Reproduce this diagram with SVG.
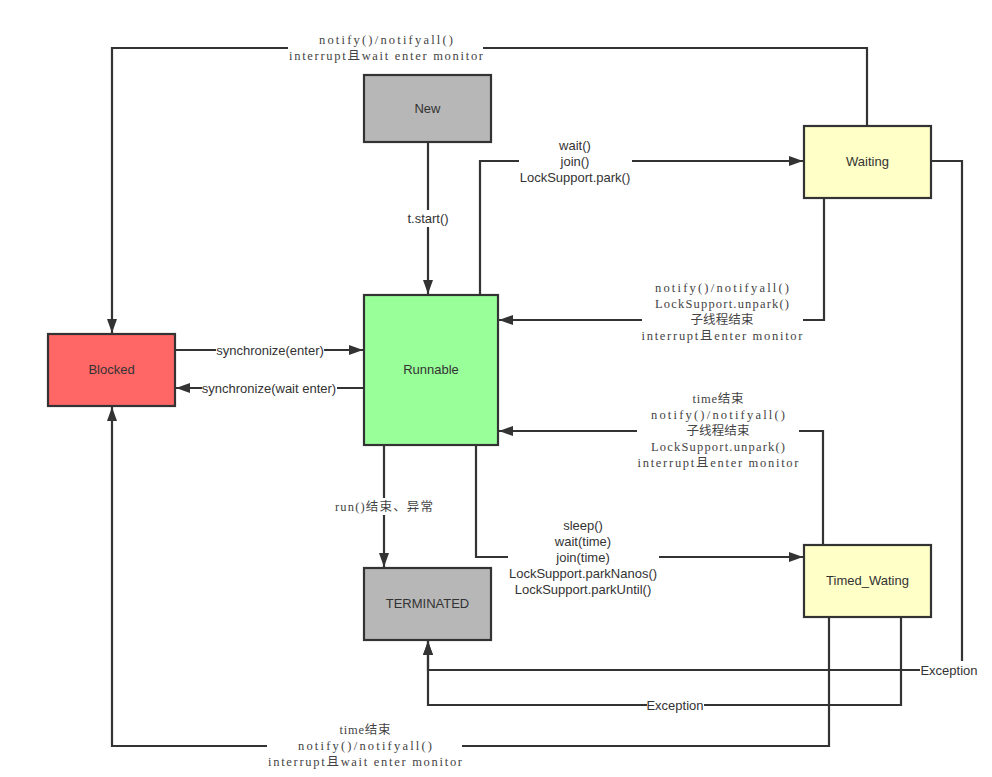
<svg xmlns="http://www.w3.org/2000/svg" width="992" height="777" viewBox="0 0 992 777">
<defs>
<style>
.node rect{stroke:#333;stroke-width:2.2}
.nt{font-family:"Liberation Sans",Arial,sans-serif;font-size:13px;fill:#333;text-anchor:middle}
.c{fill:none;stroke:#333;stroke-width:2.2}
.lt{font-family:"Liberation Sans",Arial,sans-serif;font-size:13px;fill:#333;text-anchor:middle}
.mt{font-family:"Liberation Serif","Noto Sans CJK SC",serif;font-size:12.5px;fill:#444;text-anchor:middle}
.bg{fill:#fff;stroke:none}
</style>
<marker id="ah" markerUnits="userSpaceOnUse" markerWidth="15" markerHeight="11" refX="14" refY="5" orient="auto">
<path d="M0,0 L14,5 L0,10 z" fill="#333"/>
</marker>
</defs>
<rect width="992" height="777" fill="#fff"/>
<g id="connectors">
<path class="c" d="M867,126 V48 H112 V333" marker-end="url(#ah)"/>
<path class="c" d="M428,142 V294" marker-end="url(#ah)"/>
<path class="c" d="M480,295 V161 H803" marker-end="url(#ah)"/>
<path class="c" d="M824,198 V320 H499" marker-end="url(#ah)"/>
<path class="c" d="M931,161 H962 V670 H428 V641" marker-end="url(#ah)"/>
<path class="c" d="M901,617 V705 H428 V641" marker-end="url(#ah)"/>
<path class="c" d="M829,617 V746 H112 V407" marker-end="url(#ah)"/>
<path class="c" d="M823,545 V431 H499" marker-end="url(#ah)"/>
<path class="c" d="M476,445 V557 H803" marker-end="url(#ah)"/>
<path class="c" d="M384,445 V567" marker-end="url(#ah)"/>
<path class="c" d="M176,350 H363" marker-end="url(#ah)"/>
<path class="c" d="M364,388 H176" marker-end="url(#ah)"/>
</g>
<g id="labels">
<g id="l-top"><rect class="bg" x="288" y="31" width="195" height="34"/>
<text class="mt" x="386" y="44" textLength="134" lengthAdjust="spacing">notify()/notifyall()</text>
<text class="mt" x="386" y="60" textLength="194" lengthAdjust="spacing">interrupt且wait enter monitor</text></g>
<g id="l-start"><rect class="bg" x="405" y="210" width="46" height="17"/>
<text class="lt" x="428" y="223">t.start()</text></g>
<g id="l-wait"><rect class="bg" x="519" y="136" width="113" height="48"/>
<text class="lt" x="575" y="150">wait()</text>
<text class="lt" x="575" y="166">join()</text>
<text class="lt" x="575" y="182">LockSupport.park()</text></g>
<g id="l-notify"><rect class="bg" x="642" y="279" width="161" height="66"/>
<text class="mt" x="722" y="292" textLength="134" lengthAdjust="spacing">notify()/notifyall()</text>
<text class="mt" x="722" y="308" textLength="134" lengthAdjust="spacing">LockSupport.unpark()</text>
<text class="mt" x="722" y="324" textLength="63" lengthAdjust="spacing">子线程结束</text>
<text class="mt" x="722" y="340" textLength="161" lengthAdjust="spacing">interrupt且enter monitor</text></g>
<g id="l-timeend"><rect class="bg" x="637" y="390" width="162" height="81"/>
<text class="mt" x="718" y="403" textLength="51" lengthAdjust="spacing">time结束</text>
<text class="mt" x="718" y="419" textLength="134" lengthAdjust="spacing">notify()/notifyall()</text>
<text class="mt" x="718" y="435" textLength="63" lengthAdjust="spacing">子线程结束</text>
<text class="mt" x="718" y="451" textLength="134" lengthAdjust="spacing">LockSupport.unpark()</text>
<text class="mt" x="718" y="467" textLength="161" lengthAdjust="spacing">interrupt且enter monitor</text></g>
<g id="l-sleep"><rect class="bg" x="508" y="516" width="151" height="81"/>
<text class="lt" x="583" y="530">sleep()</text>
<text class="lt" x="583" y="546">wait(time)</text>
<text class="lt" x="583" y="562">join(time)</text>
<text class="lt" x="583" y="578">LockSupport.parkNanos()</text>
<text class="lt" x="583" y="594">LockSupport.parkUntil()</text></g>
<g id="l-run"><rect class="bg" x="334" y="498" width="100" height="17"/>
<text class="mt" x="384" y="511" textLength="98" lengthAdjust="spacing">run()结束、异常</text></g>
<g id="l-sync1"><rect class="bg" x="216" y="342" width="108" height="16"/>
<text class="lt" x="270" y="354.5">synchronize(enter)</text></g>
<g id="l-sync2"><rect class="bg" x="202" y="380" width="135" height="16"/>
<text class="lt" x="269" y="392.5">synchronize(wait enter)</text></g>
<g id="l-exc1"><rect class="bg" x="920" y="661" width="58" height="17"/>
<text class="lt" x="949" y="674.5">Exception</text></g>
<g id="l-exc2"><rect class="bg" x="647" y="697" width="57" height="16"/>
<text class="lt" x="675" y="709.5">Exception</text></g>
<g id="l-bottom"><rect class="bg" x="267" y="721" width="195" height="48"/>
<text class="mt" x="365" y="734" textLength="51" lengthAdjust="spacing">time结束</text>
<text class="mt" x="365" y="750" textLength="134" lengthAdjust="spacing">notify()/notifyall()</text>
<text class="mt" x="365" y="766" textLength="194" lengthAdjust="spacing">interrupt且wait enter monitor</text></g>
</g>
<g id="node-new" class="node"><rect x="364" y="75" width="127" height="67" fill="#b7b7b7"/><text class="nt" x="427.5" y="113">New</text></g>
<g id="node-waiting" class="node"><rect x="804" y="126" width="127" height="72" fill="#ffffc8"/><text class="nt" x="867.5" y="166">Waiting</text></g>
<g id="node-blocked" class="node"><rect x="48" y="334" width="127" height="72" fill="#ff6666"/><text class="nt" x="111.5" y="374">Blocked</text></g>
<g id="node-runnable" class="node"><rect x="364" y="295" width="134" height="150" fill="#99ff99"/><text class="nt" x="431" y="374">Runnable</text></g>
<g id="node-terminated" class="node"><rect x="364" y="568" width="127" height="72" fill="#b7b7b7"/><text class="nt" x="427.5" y="608">TERMINATED</text></g>
<g id="node-timed" class="node"><rect x="804" y="545" width="127" height="72" fill="#ffffc8"/><text class="nt" x="867.5" y="585">Timed_Wating</text></g>
</svg>
